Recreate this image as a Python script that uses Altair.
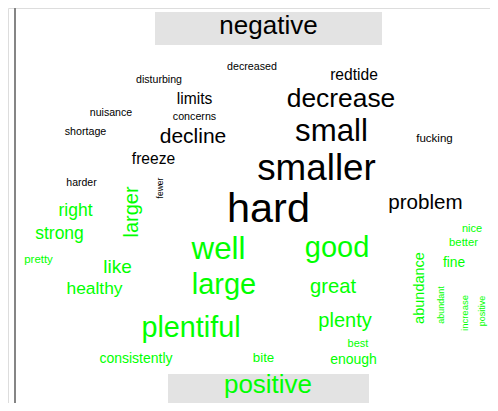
import altair as alt
import pandas as pd

# ---- word data (word, group, relative size/frequency) ----
neg_words = ["decreased", "disturbing", "redtide", "limits", "decrease", "nuisance",
             "concerns", "small", "shortage", "decline", "fucking", "freeze",
             "smaller", "harder", "hard", "problem", "fewer"]
neg_freq = [10.7, 10.6, 15.6, 15.6, 26.4, 10.6, 10.7, 31.2, 10.7, 21, 11.5, 15.6,
            36.8, 10.5, 41.4, 20.6, 8.5]

pos_words = ["right", "strong", "pretty", "like", "healthy", "well", "good", "large",
             "great", "plentiful", "plenty", "nice", "better", "fine", "best",
             "consistently", "bite", "enough", "larger", "abundance", "abundant",
             "increase", "positive"]
pos_freq = [17.5, 17.5, 11.4, 19, 17.4, 31.3, 29, 29, 20.2, 28.8, 20, 11, 11.3, 13.8,
            11, 14, 13.3, 14, 20, 14.5, 9, 9.5, 9]

# ---- cloud layout (pixel positions of each word, rotation) ----
neg_lx = [252, 159, 354, 194.5, 341, 111, 194.5, 331.5, 85.5, 193, 434.5, 153.5,
          316.5, 81.5, 268.5, 425.5, 163]
neg_ly = [70, 83, 80, 104, 107, 116, 120, 141, 135, 143, 142, 164, 180, 186, 222, 209, 188]
neg_rot = [0] * 16 + [270]

pos_lx = [75.5, 59.5, 38.5, 117.5, 94.5, 218.5, 337, 224, 333, 191, 345, 472, 463.5,
          454, 358, 136, 263.5, 353.5, 138, 424, 444, 468, 485]
pos_ly = [216, 239, 262.5, 273, 294, 259, 257, 294, 293, 336.5, 327, 232, 246, 267,
          347, 363, 362, 364, 212, 288, 305, 313, 311]
pos_rot = [0] * 18 + [270] * 5

groups = ["negative", "positive"]
group_colors = ["#000000", "#00ff00"]

rows = []
for w, f, x, y, a in zip(neg_words, neg_freq, neg_lx, neg_ly, neg_rot):
    rows.append(dict(word=w, group="negative", freq=f, x=x, y=y, angle=a))
for w, f, x, y, a in zip(pos_words, pos_freq, pos_lx, pos_ly, pos_rot):
    rows.append(dict(word=w, group="positive", freq=f, x=x, y=y, angle=a))
words = pd.DataFrame(rows)

headers = pd.DataFrame({
    "group": groups,
    "x": [268.5, 268],
    "y": [34, 393],
    "x1": [155, 168], "x2": [382, 369],
    "y1": [12, 374], "y2": [45, 408],
})

frame = pd.DataFrame({
    "x": [15, 15], "x2": [15, 498],
    "y": [6, 6], "y2": [411, 6],
})

W, H = 482, 395
xs = alt.Scale(domain=[8, 8 + W], range=[0, W], nice=False, zero=False)
ys = alt.Scale(domain=[8, 8 + H], range=[0, H], nice=False, zero=False)
cs = alt.Scale(domain=groups, range=group_colors)
FONT = "Liberation Sans"

frame_layer = alt.Chart(frame).mark_rule(color="#858585", strokeWidth=2).encode(
    x=alt.X("x:Q", scale=xs, axis=None), x2="x2:Q",
    y=alt.Y("y:Q", scale=ys, axis=None), y2="y2:Q",
)

boxes = alt.Chart(headers).mark_rect(color="#e3e3e3").encode(
    x=alt.X("x1:Q", scale=xs, axis=None), x2="x2:Q",
    y=alt.Y("y1:Q", scale=ys, axis=None), y2="y2:Q",
)

header_text = alt.Chart(headers).mark_text(
    font=FONT, fontSize=26, align="center", baseline="alphabetic"
).encode(
    x=alt.X("x:Q", scale=xs, axis=None),
    y=alt.Y("y:Q", scale=ys, axis=None),
    text="group:N",
    color=alt.Color("group:N", scale=cs, legend=None),
)

cloud = alt.Chart(words).mark_text(
    font=FONT, align="center", baseline="alphabetic"
).encode(
    x=alt.X("x:Q", scale=xs, axis=None),
    y=alt.Y("y:Q", scale=ys, axis=None),
    text="word:N",
    size=alt.Size("freq:Q", scale=None, legend=None),
    angle=alt.Angle("angle:Q", scale=None),
    color=alt.Color("group:N", scale=cs, legend=None),
)

chart = alt.layer(frame_layer, boxes, header_text, cloud).properties(
    width=W, height=H, padding=0, autosize=alt.AutoSizeParams(type="none")
).configure_view(stroke=None).configure(background="white")

chart.save("out.html", embed_options={"renderer": "svg", "actions": False})
